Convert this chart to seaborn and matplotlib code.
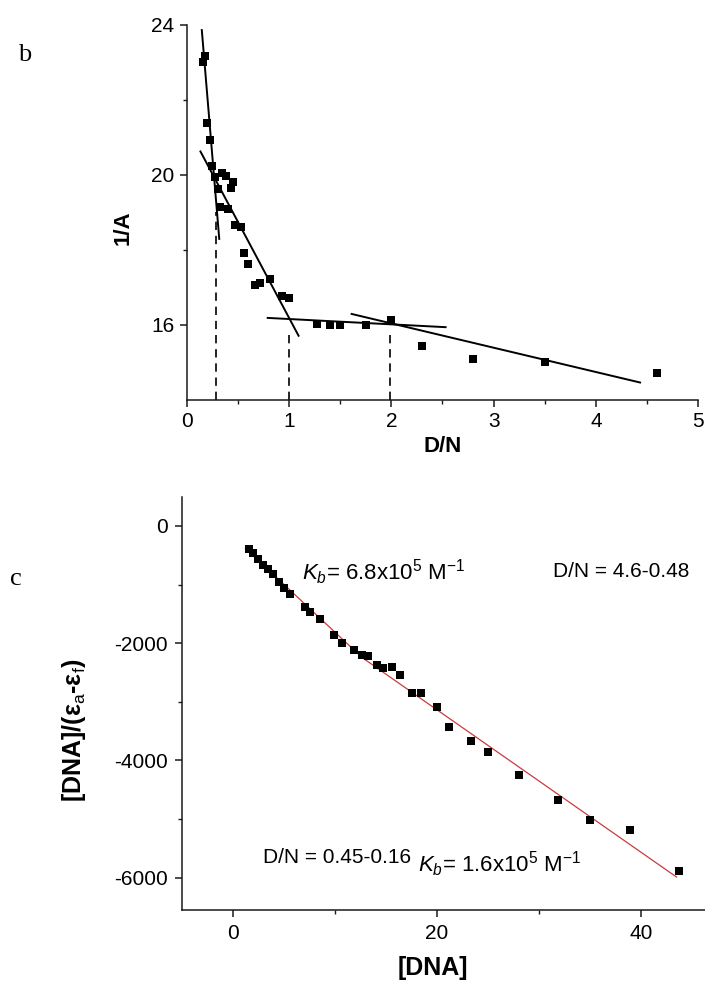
import numpy as np
import pandas as pd
import matplotlib
matplotlib.use("Agg")
import matplotlib.pyplot as plt
import seaborn as sns

# ---- panel b: 1/A versus D/N (mole-ratio plot) ----
dn_ratio = [0.156, 0.179, 0.201, 0.225, 0.250, 0.277, 0.306, 0.326, 0.348, 0.384,
            0.401, 0.430, 0.456, 0.472, 0.528, 0.560, 0.599, 0.665, 0.717, 0.817,
            0.934, 1.00, 1.27, 1.40, 1.50, 1.75, 2.00, 2.30, 2.80, 3.50, 4.60]
inv_abs = [23.01, 23.18, 21.39, 20.93, 20.25, 19.95, 19.63, 19.15, 20.05, 19.98,
           19.09, 19.66, 19.82, 18.67, 18.62, 17.91, 17.63, 17.07, 17.13, 17.23,
           16.77, 16.73, 16.02, 16.00, 16.00, 16.00, 16.13, 15.44, 15.09, 15.00, 14.72]

# straight-line segments (x0, x1), (y0, y1)
seg1_x, seg1_y = [0.147, 0.319], [23.89, 18.27]
seg2_x, seg2_y = [0.130, 1.098], [20.65, 15.69]
seg3_x, seg3_y = [0.782, 2.54], [16.19, 15.94]
seg4_x, seg4_y = [1.603, 4.44], [16.30, 14.46]

# break points marked by dashed drop lines: (x, top)
break_x = [0.286, 1.0, 1.99]
break_top = [19.0, 15.75, 15.75]

# ---- panel c: [DNA]/(eps_a - eps_f) versus [DNA] ----
dna = [1.56, 1.99, 2.44, 2.93, 3.46, 3.95, 4.49, 4.98, 5.57, 7.11, 7.60, 8.58,
       9.88, 10.70, 11.84, 12.66, 13.21, 14.13, 14.77, 15.65, 16.41, 17.55, 18.43,
       20.00, 21.23, 23.39, 25.05, 28.03, 31.85, 35.04, 38.92, 43.75]
dna_ratio = [-392, -465, -568, -665, -738, -818, -949, -1062, -1159, -1386, -1461,
             -1590, -1858, -1999, -2114, -2199, -2216, -2369, -2426, -2398, -2540,
             -2841, -2841, -3080, -3421, -3665, -3852, -4244, -4670, -5023, -5194,
             -5893]

# two linear fits (low-DNA and high-DNA ranges)
fit_lo_x, fit_lo_y = [1.23, 12.65], [-380, -2241]
fit_hi_x, fit_hi_y = [12.65, 43.5], [-2241, -5990]

sns.set_theme(style="ticks")
plt.rcParams["font.family"] = ["Liberation Sans", "DejaVu Sans"]
plt.rcParams["mathtext.fontset"] = "custom"
plt.rcParams["mathtext.rm"] = "Liberation Sans"
plt.rcParams["mathtext.it"] = "Liberation Sans:italic"
plt.rcParams["mathtext.bf"] = "Liberation Sans:bold"
plt.rcParams["axes.linewidth"] = 1.1
plt.rcParams["axes.unicode_minus"] = False
plt.rcParams["text.color"] = "black"
plt.rcParams["axes.labelcolor"] = "black"
plt.rcParams["xtick.color"] = "black"
plt.rcParams["ytick.color"] = "black"

fig = plt.figure(figsize=(7.05, 9.83), dpi=100)
fig.patch.set_facecolor("white")
ax1 = fig.add_axes([0.2648, 0.5931, 0.7257, 0.3815])
ax2 = fig.add_axes([0.2577, 0.07426, 0.7423, 0.4205])

def style_axis(ax):
    for s in ["top", "right"]:
        ax.spines[s].set_visible(False)
    for s in ["left", "bottom"]:
        ax.spines[s].set_color("#1a1a1a")
    ax.tick_params(which="major", direction="out", length=5, width=1.1,
                   labelsize=15, color="#1a1a1a", labelcolor="black", pad=4)
    ax.tick_params(which="minor", direction="out", length=3, width=1.0,
                   color="#1a1a1a")
    ax.grid(False)
    ax.set_facecolor("white")

# panel b
df_b = pd.DataFrame({"D/N": dn_ratio, "1/A": inv_abs})
for xs, ys in [(seg1_x, seg1_y), (seg2_x, seg2_y), (seg3_x, seg3_y), (seg4_x, seg4_y)]:
    ax1.plot(xs, ys, color="black", lw=1.4, solid_capstyle="butt")
for bx, bt in zip(break_x, break_top):
    ax1.plot([bx, bx], [14, bt], color="black", lw=1.2, ls=(0, (5, 3.5)))
sns.scatterplot(data=df_b, x="D/N", y="1/A", ax=ax1, marker="s", s=36,
                color="black", linewidth=0, zorder=3)
ax1.set_xlim(0, 5)
ax1.set_ylim(14, 24)
ax1.set_xticks(range(6))
ax1.set_xticks(np.arange(0.5, 5, 1.0), minor=True)
ax1.set_yticks([16, 20, 24])
ax1.set_yticks([18, 22], minor=True)
style_axis(ax1)
ax1.set_xlabel("D/N", fontsize=16, fontweight="bold")
ax1.set_ylabel("1/A", fontsize=16, fontweight="bold")
ax1.xaxis.set_label_coords(0.5, -0.095)
ax1.yaxis.set_label_coords(-0.104, 0.46)

# panel c
df_c = pd.DataFrame({"DNA": dna, "ratio": dna_ratio})
ax2.plot(fit_lo_x, fit_lo_y, color="#c83c3c", lw=0.9)
ax2.plot(fit_hi_x, fit_hi_y, color="#c83c3c", lw=0.9)
sns.scatterplot(data=df_c, x="DNA", y="ratio", ax=ax2, marker="s", s=34,
                color="black", linewidth=0, zorder=3)
ax2.set_xlim(-5, 46.27)
ax2.set_ylim(-6550, 500)
ax2.set_xticks([0, 20, 40])
ax2.set_xticks([10, 30], minor=True)
ax2.set_yticks([-6000, -4000, -2000, 0])
ax2.set_yticks([-5000, -3000, -1000], minor=True)
style_axis(ax2)
ax2.tick_params(which="major", pad=5)
ax2.set_xlabel("[DNA]", fontsize=18, fontweight="bold")
ax2.set_ylabel(r"[DNA]/($\mathbf{ε}_\mathrm{a}$-$\mathbf{ε}_\mathrm{f}$)",
               fontsize=18, fontweight="bold")
ax2.xaxis.set_label_coords(0.48, -0.112)
ax2.yaxis.set_label_coords(-0.179, 0.435)

ax2.text(6.78, -920, r"$K_b$= 6.8x10$^5$ M$^{-1}$", fontsize=16,
         ha="left", va="baseline")
ax2.text(31.4, -869, "D/N = 4.6-0.48", fontsize=15, ha="left", va="baseline")
ax2.text(17.48, -5744, "D/N = 0.45-0.16", fontsize=15, ha="right", va="baseline")
ax2.text(18.17, -5892, r"$K_b$= 1.6x10$^5$ M$^{-1}$", fontsize=16,
         ha="left", va="baseline")

# panel letters
fig.text(0.0355, 0.944, "b", fontsize=19, family=["Liberation Serif"],
         ha="center", va="center")
fig.text(0.0227, 0.411, "c", fontsize=19, family=["Liberation Serif"],
         ha="center", va="center")

fig.savefig("out.png", dpi=100, facecolor="white")
